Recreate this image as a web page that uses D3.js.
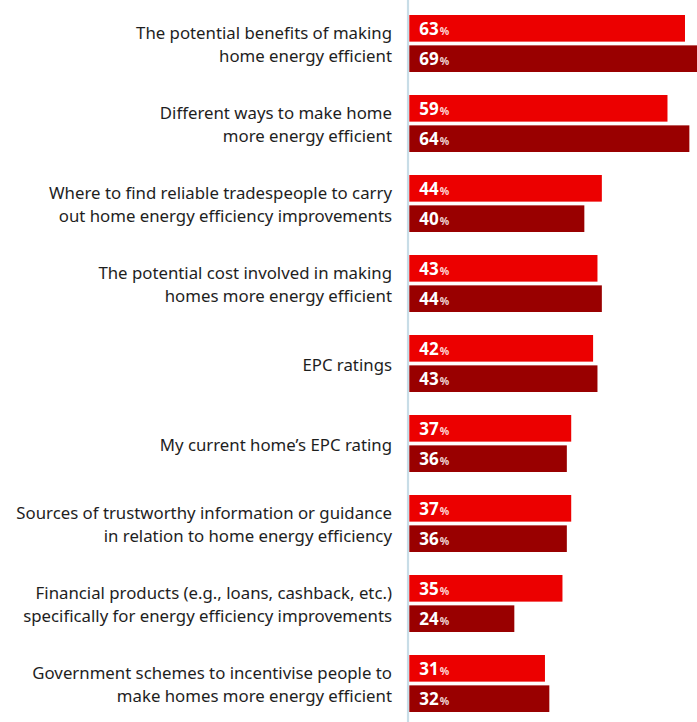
<!DOCTYPE html>
<html>
<head>
<meta charset="utf-8">
<script src="https://cdn.jsdelivr.net/npm/d3@7"></script>
<style>
  html, body { margin: 0; padding: 0; background: #fff; }
  svg { display: block; }
</style>
</head>
<body>
<svg id="chart" width="697" height="722"></svg>
<script>
// Topics, each split into its display lines
const categories = [
  ["The potential benefits of making", "home energy efficient"],
  ["Different ways to make home", "more energy efficient"],
  ["Where to find reliable tradespeople to carry", "out home energy efficiency improvements"],
  ["The potential cost involved in making", "homes more energy efficient"],
  ["EPC ratings"],
  ["My current home’s EPC rating"],
  ["Sources of trustworthy information or guidance", "in relation to home energy efficiency"],
  ["Financial products (e.g., loans, cashback, etc.)", "specifically for energy efficiency improvements"],
  ["Government schemes to incentivise people to", "make homes more energy efficient"]
];
// Share of respondents (%) for the two groups
const seriesNames = ["first", "second"];
const seriesFirst = [63, 59, 44, 43, 42, 37, 37, 35, 31];
const seriesSecond = [69, 64, 40, 44, 43, 36, 36, 24, 32];
const seriesColors = ["#ec0000", "#990000"];

const svg = d3.select("#chart");
const W = 697, H = 722;

const rows = categories.map((c, i) => ({
  lines: c,
  values: [seriesFirst[i], seriesSecond[i]]
}));

const y = d3.scaleBand()
  .domain(d3.range(categories.length))
  .range([15, 712])
  .paddingInner(23 / 80)
  .paddingOuter(0);

const yInner = d3.scaleBand()
  .domain(d3.range(seriesNames.length))
  .range([0, y.bandwidth()])
  .paddingInner(7 / 57);

const x0 = 409.3;
const x = d3.scaleLinear().domain([0, 69]).range([x0, x0 + 69 * 4.376]);

// vertical baseline
svg.append("line")
  .attr("x1", 408).attr("x2", 408)
  .attr("y1", 0).attr("y2", H)
  .attr("stroke", "#c8dde7")
  .attr("stroke-width", 2.2);

const groups = svg.selectAll("g.row")
  .data(rows)
  .join("g")
  .attr("class", "row")
  .attr("transform", (d, i) => `translate(0,${y(i)})`);

// category labels
groups.append("text")
  .attr("text-anchor", "end")
  .attr("font-family", "'Noto Sans', sans-serif")
  .attr("font-size", 16.8)
  .attr("fill", "#1e1e1e")
  .each(function(d) {
    const t = d3.select(this);
    const lh = 23.5;
    const mid = y.bandwidth() / 2;
    const start = mid - (d.lines.length - 1) * lh / 2;
    d.lines.forEach((line, k) => {
      t.append("tspan")
        .attr("x", 392)
        .attr("y", start + k * lh + 7)
        .text(line);
    });
  });

// bars
groups.selectAll("rect")
  .data(d => d.values.map((v, k) => ({ v, k })))
  .join("rect")
  .attr("x", x(0))
  .attr("y", d => yInner(d.k))
  .attr("width", d => x(d.v) - x(0))
  .attr("height", yInner.bandwidth())
  .attr("fill", d => seriesColors[d.k]);

// value labels inside bars
const vl = groups.selectAll("text.val")
  .data(d => d.values.map((v, k) => ({ v, k })))
  .join("text")
  .attr("class", "val")
  .attr("x", x(0) + 10)
  .attr("y", d => yInner(d.k) + yInner.bandwidth() / 2 + 6.5)
  .attr("font-family", "'Noto Sans', sans-serif")
  .attr("fill", "#ffffff");
vl.append("tspan")
  .attr("font-size", 17)
  .attr("font-weight", "bold")
  .text(d => d.v);
vl.append("tspan")
  .attr("font-size", 10.5)
  .attr("font-weight", "bold")
  .attr("fill-opacity", 0.85)
  .attr("dx", 1)
  .text("%");
</script>
</body>
</html>
